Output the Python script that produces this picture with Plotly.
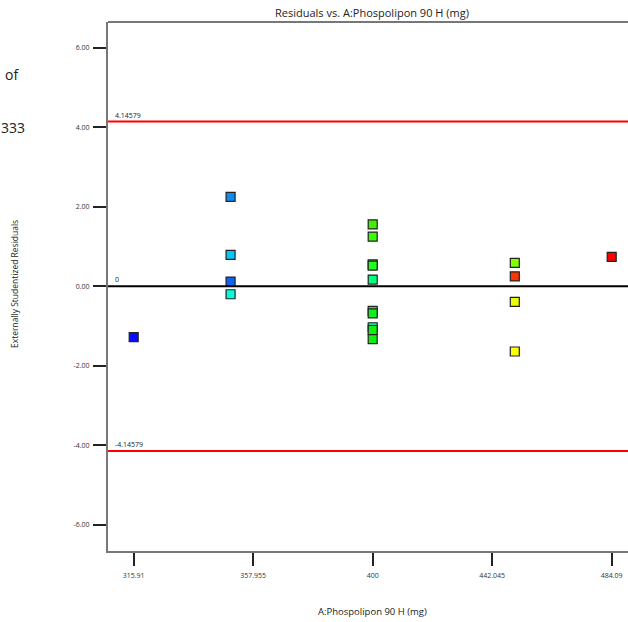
import plotly.graph_objects as go

# ---- data ----
x_vals = [315.91,
          350, 350, 350, 350,
          400, 400, 400, 400, 400, 400, 400, 400, 400, 400,
          450, 450, 450, 450,
          484.09]
resid = [-1.28,
         2.25, 0.79, 0.12, -0.20,
         1.56, 1.25, 0.55, 0.52, 0.17, -0.62, -0.68, -1.03, -1.10, -1.33,
         0.59, 0.25, -0.39, -1.64,
         0.74]
colors = ["#0a0aff",
          "#0a8cf5", "#00c8ff", "#0a64f5", "#00ffd8",
          "#40f000", "#38ff00", "#28f000", "#20ff20", "#00ff80", "#20f020", "#10f020", "#00e8b0", "#10f010", "#10f010",
          "#80ff00", "#ff3300", "#eaff00", "#ffff00",
          "#ff0000"]
limit = 4.14579
x_ticks = [315.91, 357.955, 400, 442.045, 484.09]
x_tick_text = ["315.91", "357.955", "400", "442.045", "484.09"]
y_ticks = [-6, -4, -2, 0, 2, 4, 6]
y_tick_text = ["-6.00", "-4.00", "-2.00", "0.00", "2.00", "4.00", "6.00"]

W, H = 628, 622
L, R, T, B = 108, 0, 22, 71
PW, PH = W - L - R, H - T - B
font = "Open Sans, Noto Sans, sans-serif"


def px(xp):
    return (xp - L) / PW


def py(yp):
    return (H - B - yp) / PH


fig = go.Figure()
fig.add_trace(go.Scatter(
    x=x_vals, y=resid, mode="markers",
    marker=dict(symbol="square", size=9, color=colors,
                line=dict(color="#222222", width=1.2)),
    showlegend=False, hoverinfo="x+y"))

shapes = [
    dict(type="line", xref="paper", x0=0, x1=1, yref="y", y0=0, y1=0,
         line=dict(color="black", width=2)),
    dict(type="line", xref="paper", x0=0, x1=1, yref="y", y0=limit, y1=limit,
         line=dict(color="#ff0000", width=2)),
    dict(type="line", xref="paper", x0=0, x1=1, yref="y", y0=-limit, y1=-limit,
         line=dict(color="#ff0000", width=2)),
    dict(type="line", xref="paper", x0=0, x1=1, yref="paper", y0=1, y1=1,
         line=dict(color="#777777", width=2)),
]

small = dict(family=font, size=7, color="#222222")
annotations = [
    dict(x=0, xref="paper", xshift=5, y=limit, yref="y", text=f"{limit:.5f}",
         showarrow=False, xanchor="left", yanchor="bottom", font=small),
    dict(x=0, xref="paper", xshift=5, y=0, yref="y", text="0",
         showarrow=False, xanchor="left", yanchor="bottom", font=small),
    dict(x=0, xref="paper", xshift=5, y=-limit, yref="y", text=f"{-limit:.5f}",
         showarrow=False, xanchor="left", yanchor="bottom", font=small),
    dict(x=px(372), xref="paper", y=py(12), yref="paper",
         text="Residuals vs. A:Phospolipon 90 H (mg)", showarrow=False,
         xanchor="center", yanchor="middle",
         font=dict(family=font, size=11, color="#222222")),
    dict(x=px(372), xref="paper", y=py(611), yref="paper",
         text="A:Phospolipon 90 H (mg)", showarrow=False,
         xanchor="center", yanchor="middle",
         font=dict(family=font, size=9.5, color="#222222")),
    dict(x=px(14), xref="paper", y=py(284), yref="paper",
         text="Externally Studentized Residuals", showarrow=False, textangle=-90,
         xanchor="center", yanchor="middle",
         font=dict(family=font, size=8.5, color="#222222")),
    dict(x=px(3), xref="paper", y=py(75), yref="paper",
         text="of", showarrow=False, xanchor="left", yanchor="middle",
         font=dict(family=font, size=14, color="#222222")),
    dict(x=px(-1), xref="paper", y=py(127), yref="paper",
         text="333", showarrow=False, xanchor="left", yanchor="middle",
         font=dict(family=font, size=14, color="#222222")),
]

fig.update_layout(
    width=W, height=H,
    margin=dict(l=L, r=R, t=T, b=B),
    paper_bgcolor="white", plot_bgcolor="white",
    shapes=shapes, annotations=annotations,
    xaxis=dict(range=[306.87, 489.83], tickvals=x_ticks, ticktext=x_tick_text,
               showgrid=False, zeroline=False, showline=True,
               linecolor="#777777", linewidth=2,
               ticks="outside", ticklen=13, tickwidth=1.5, tickcolor="#222222",
               ticklabelstandoff=4,
               tickfont=dict(family=font, size=7, color="#333333")),
    yaxis=dict(range=[-6.66, 6.65], tickvals=y_ticks, ticktext=y_tick_text,
               showgrid=False, zeroline=False, showline=True,
               linecolor="#777777", linewidth=2,
               ticks="outside", ticklen=13, tickwidth=1.5, tickcolor="#222222",
               ticklabelstandoff=2,
               tickfont=dict(family=font, size=7, color="#333333")),
)

fig.write_html("out.html")
